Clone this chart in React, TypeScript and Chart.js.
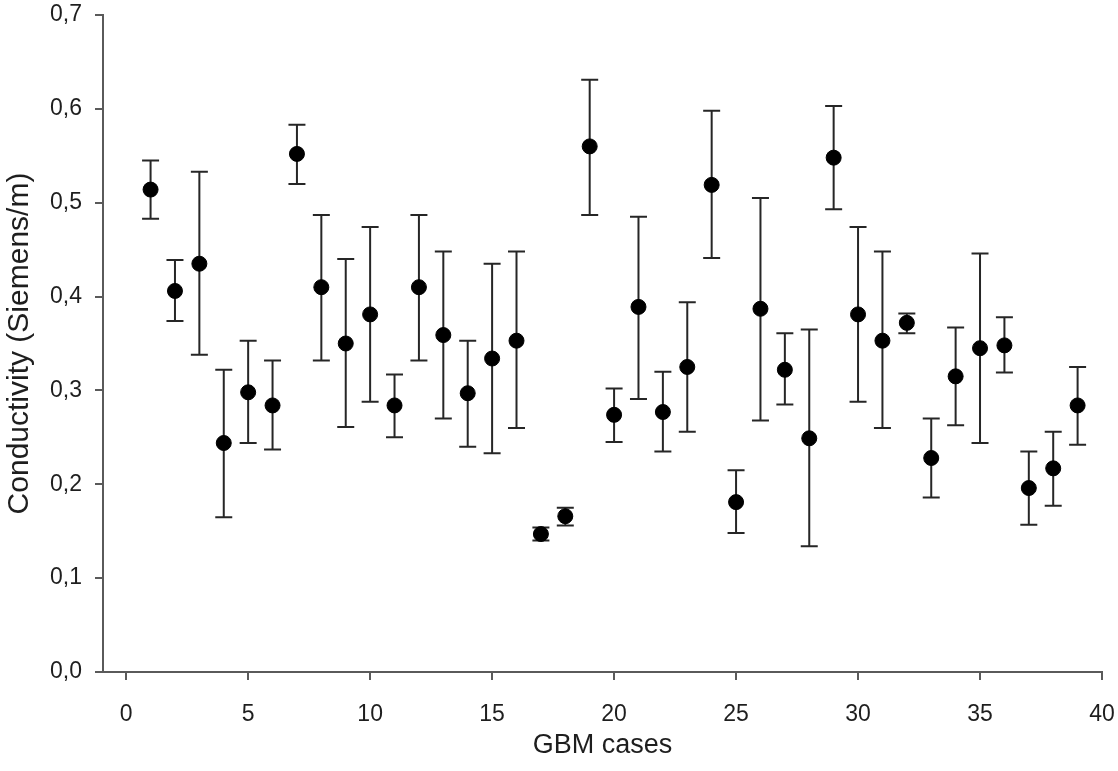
import React, { useEffect, useRef } from "react";
import { Chart, registerables } from "chart.js";

Chart.register(...registerables);

const CASES = [1,2,3,4,5,6,7,8,9,10,11,12,13,14,15,16,17,18,19,20,21,22,23,24,25,26,27,28,29,30,31,32,33,34,35,36,37,38,39];
const MEANS = [0.514,0.406,0.435,0.244,0.298,0.284,0.552,0.410,0.350,0.381,0.284,0.410,0.359,0.297,0.334,0.353,0.147,0.166,0.560,0.274,0.389,0.277,0.325,0.519,0.181,0.387,0.322,0.249,0.548,0.381,0.353,0.372,0.228,0.315,0.345,0.348,0.196,0.217,0.284];
const UPPER = [0.545,0.439,0.533,0.322,0.353,0.332,0.583,0.487,0.440,0.474,0.317,0.487,0.448,0.353,0.435,0.448,0.154,0.175,0.631,0.302,0.485,0.320,0.394,0.598,0.215,0.505,0.361,0.365,0.603,0.474,0.448,0.382,0.270,0.367,0.446,0.378,0.235,0.256,0.325];
const LOWER = [0.483,0.374,0.338,0.165,0.244,0.237,0.520,0.332,0.261,0.288,0.250,0.332,0.270,0.240,0.233,0.260,0.140,0.156,0.487,0.245,0.291,0.235,0.256,0.441,0.148,0.268,0.285,0.134,0.493,0.288,0.260,0.361,0.186,0.263,0.244,0.319,0.157,0.177,0.242];
const X_TICKS = [0,5,10,15,20,25,30,35,40];
const Y_TICKS = [0,0.1,0.2,0.3,0.4,0.5,0.6,0.7];

const FONT = "'Liberation Sans', Arial, sans-serif";
const AXIS_COLOR = "#5a5a5a";
const TEXT_COLOR = "#1e1e1e";

const errorBars = {
  id: "errorBars",
  beforeDatasetsDraw(chart: any) {
    const { ctx, scales } = chart;
    const xs = scales.x;
    const ys = scales.y;
    ctx.save();
    ctx.strokeStyle = "#262626";
    ctx.lineWidth = 2;
    const cap = 8.5;
    CASES.forEach((c, i) => {
      const px = xs.getPixelForValue(c);
      const top = ys.getPixelForValue(UPPER[i]);
      const bot = ys.getPixelForValue(LOWER[i]);
      ctx.beginPath();
      ctx.moveTo(px, top);
      ctx.lineTo(px, bot);
      ctx.moveTo(px - cap, top);
      ctx.lineTo(px + cap, top);
      ctx.moveTo(px - cap, bot);
      ctx.lineTo(px + cap, bot);
      ctx.stroke();
    });
    ctx.restore();
  },
};

export default function App() {
  const ref = useRef<HTMLCanvasElement | null>(null);
  useEffect(() => {
    if (!ref.current) return;
    const chart = new Chart(ref.current, {
      type: "scatter",
      data: {
        datasets: [
          {
            data: CASES.map((c, i) => ({ x: c, y: MEANS[i] })),
            backgroundColor: "#000",
            borderColor: "#000",
            pointRadius: 7.5,
            pointHoverRadius: 7.5,
          },
        ],
      },
      plugins: [errorBars],
      options: {
        animation: false,
        responsive: false,
        maintainAspectRatio: false,
        layout: { padding: { left: 0, right: 16, top: 15, bottom: 0 } },
        plugins: { legend: { display: false }, tooltip: { enabled: false } },
        scales: {
          x: {
            type: "linear",
            min: -0.95,
            max: 40,
            afterBuildTicks: (s: any) => { s.ticks = X_TICKS.map((v) => ({ value: v })); },
            afterFit: (s: any) => { s.height = 99; s.paddingLeft = 0; s.paddingRight = 0; },
            border: { display: true, color: AXIS_COLOR, width: 2 },
            grid: { display: true, drawOnChartArea: false, drawTicks: true, tickLength: 8, color: AXIS_COLOR, lineWidth: 2 },
            ticks: { color: TEXT_COLOR, font: { family: FONT, size: 23 }, padding: 21, maxRotation: 0, callback: (v: any) => String(v) },
            title: { display: true, text: "GBM cases", color: TEXT_COLOR, font: { family: FONT, size: 27 }, padding: { top: 0, bottom: 9 } },
          },
          y: {
            type: "linear",
            min: 0,
            max: 0.7,
            afterBuildTicks: (s: any) => { s.ticks = Y_TICKS.map((v) => ({ value: v })); },
            afterFit: (s: any) => { s.width = 103; s.paddingTop = 0; s.paddingBottom = 0; },
            border: { display: true, color: AXIS_COLOR, width: 2 },
            grid: { display: true, drawOnChartArea: false, drawTicks: true, tickLength: 8, color: AXIS_COLOR, lineWidth: 2 },
            ticks: { color: TEXT_COLOR, font: { family: FONT, size: 23 }, padding: 13, callback: (v: any) => Number(v).toFixed(1).replace(".", ",") },
            title: { display: true, text: "Conductivity (Siemens/m)", color: TEXT_COLOR, font: { family: FONT, size: 30 }, padding: { top: 2, bottom: 0 } },
          },
        },
      },
    });
    return () => chart.destroy();
  }, []);
  return (
    <div style={{ position: "absolute", left: 0, top: 0, width: 1118, height: 771, background: "#fff" }}>
      <canvas ref={ref} width={1118} height={771} style={{ display: "block" }} />
    </div>
  );
}
